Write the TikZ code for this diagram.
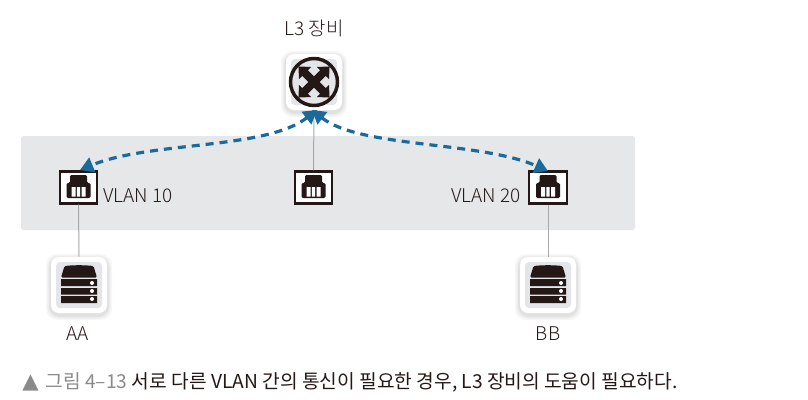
\documentclass[tikz,border=0pt]{standalone}
\usepackage{fontspec}
\setmainfont{Noto Sans CJK KR}
\newfontfamily\lightfont{Noto Sans CJK KR Light}
\newfontfamily\symfont{DejaVu Sans}
\usetikzlibrary{arrows.meta}
\definecolor{band}{HTML}{E6E7E9}
\definecolor{linkblue}{HTML}{1A6A9B}
\definecolor{ink}{HTML}{231815}
\definecolor{wire}{HTML}{A8A8A8}
\definecolor{inner}{HTML}{E4E5E8}
\definecolor{capgray}{HTML}{8A8A8A}
\tikzset{
  x=0.75pt,y=-0.75pt,
  label text/.style={font=\lightfont\fontsize{14.2}{16}\selectfont,text=ink,inner sep=0pt},
  portbox/.style={draw=ink,line width=1.6pt,fill=white,minimum width=28pt,minimum height=24pt,inner sep=0pt},
  tilebox/.style={fill=white,rounded corners=6pt,minimum width=42pt,minimum height=42pt,inner sep=0pt},
  wireline/.style={draw=wire,line width=0.75pt},
  hoplink/.style={draw=linkblue,line width=2.4pt,dash pattern=on 6pt off 4.5pt,
    {Triangle[length=10pt,width=11.5pt]}-{Triangle[length=10pt,width=11.5pt]}},
  port glyph/.pic={
    \fill[ink,rounded corners=1pt] (-12,-4.5) -- (-8.5,-4.5) -- (-8.5,-12.5) -- (8.5,-12.5) -- (8.5,-4.5) -- (12,-4.5) -- (12,10.5) -- (-12,10.5) -- cycle;
    \fill[white] (-7,-0.5) rectangle (-3,9) (-1.7,-0.5) rectangle (1.7,9) (3,-0.5) rectangle (7,9);
  },
  server glyph/.pic={
    \fill[inner,rounded corners=3pt] (-23,-23) rectangle (23,23);
    \fill[ink,rounded corners=1pt] (-18,-7.5) -- (-14.5,-19) .. controls (-5,-20) and (5,-20) .. (14.5,-19) -- (18,-7.5) -- cycle;
    \fill[ink] (-18,-6) rectangle (18,1) (-18,3) rectangle (18,9.5) (-18,11) rectangle (18,18);
    \fill[white] (13,-2) circle (2) (13,6) circle (2) (13,14) circle (2);
  },
  router glyph/.pic={
    \fill[inner,rounded corners=3pt] (-23,-23) rectangle (23,23);
    \draw[ink,line width=2.6pt,fill=inner] (0,0) circle (23.5);
    \foreach \a in {45,135,225,315}{
      \fill[ink,rotate=\a] (0,-4) -- (12.7,-4) -- (12.7,-8.5) -- (22,0) -- (12.7,8.5) -- (12.7,4) -- (0,4) -- cycle;
    }
  },
}
\newcommand{\softshadow}[2]{%
  \foreach \g/\o in {5/0.03,3.5/0.04,2/0.05}{
    \fill[black,opacity=\o,rounded corners=8pt] (#1-28-\g,#2-28-\g+2) rectangle (#1+28+\g,#2+28+\g+2);
  }}
\begin{document}
\begin{tikzpicture}
\useasboundingbox (0,0) rectangle (808,400);
\fill[band,rounded corners=2pt] (21,136) rectangle (635,230);

% tiles
\softshadow{314}{82}
\softshadow{79}{285}
\softshadow{548}{285}
\node[tilebox] (router) at (314,82) {};
\node[tilebox] (aa) at (79,285) {};
\node[tilebox] (bb) at (548,285) {};
\pic at (314,82) {router glyph};
\pic at (79,285) {server glyph};
\pic at (548,285) {server glyph};

% ports
\node[portbox] (p1) at (78.5,187.5) {};
\node[portbox] (p2) at (313.5,187.5) {};
\node[portbox] (p3) at (548,187.5) {};
\pic at (78.5,187.5) {port glyph};
\pic at (313.5,187.5) {port glyph};
\pic at (548,187.5) {port glyph};

% wires
\draw[wireline] (router.south) -- (p2.north);
\draw[wireline] (p1.south) -- (aa.north);
\draw[wireline] (p3.south) -- (bb.north);

% dashed hops
\coordinate (rl) at (317,110);
\coordinate (rr) at (312,110);
\coordinate (pl) at (80,170);
\coordinate (pr) at (548,171);
\draw[hoplink] (rl) .. controls (265,150) and (150,141) .. (pl);
\draw[hoplink] (rr) .. controls (360,148) and (480,141) .. (pr);

% labels
\node[label text,anchor=west] (v10) at (103,195.5) {VLAN 10};
\node[label text,anchor=east] (v20) at (521,195.5) {VLAN 20};
\node[label text] (l3) at (314,28) {L3 장비};
\node[label text] (aat) at (78,334) {AA};
\node[label text] (bbt) at (548,334) {BB};
\node[font=\fontsize{14.4}{16}\selectfont,anchor=west,inner sep=0pt,text=ink] (cap) at (22,382)
  {{\symfont\fontsize{16}{16}\selectfont\color{capgray}▲}\hspace{2pt}\ {\color{capgray}그림 4–13} 서로 다른 VLAN 간의 통신이 필요한 경우, L3 장비의 도움이 필요하다.};
\end{tikzpicture}
\end{document}
